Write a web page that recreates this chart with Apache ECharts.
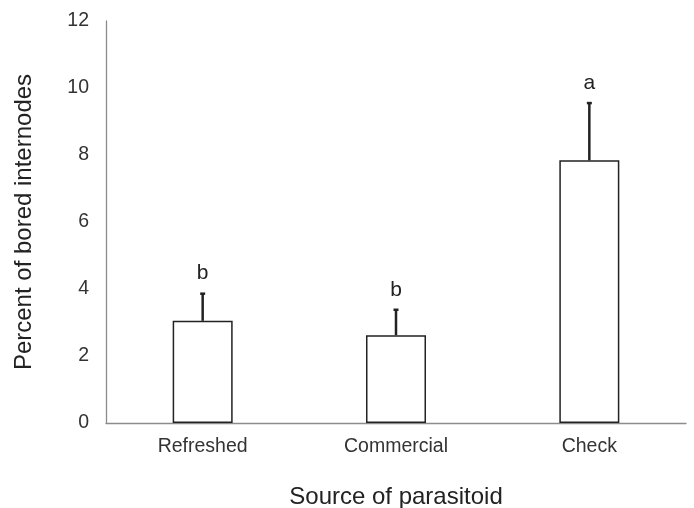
<!DOCTYPE html>
<html>
<head>
<meta charset="utf-8">
<script src="https://cdn.jsdelivr.net/npm/echarts@6/dist/echarts.min.js"></script>
<style>html,body{margin:0;padding:0;background:#fff}#c{width:694px;height:508px}</style>
</head>
<body>
<div id="c"></div>
<script>
var categories = ['Refreshed', 'Commercial', 'Check'];
var means = [3.05, 2.62, 7.84];
var errorTops = [3.89, 3.41, 9.58];
var letters = ['b', 'b', 'a'];
var yTicks = [0, 2, 4, 6, 8, 10, 12];

var chart = echarts.init(document.getElementById('c'));
var font = 'Liberation Sans, Arial, sans-serif';
chart.setOption({
  animation: false,
  backgroundColor: '#fff',
  grid: { left: 106, right: 8, top: 21, bottom: 85, containLabel: false, outerBoundsMode: 'none' },
  xAxis: {
    type: 'category',
    data: categories,
    axisLine: { lineStyle: { color: '#8c8c8c', width: 1.3 } },
    axisTick: { show: false },
    axisLabel: { color: '#333', fontSize: 19.5, fontFamily: font, margin: 14 },
    name: 'Source of parasitoid',
    nameLocation: 'middle',
    nameGap: 62,
    nameTextStyle: { color: '#222', fontSize: 24, fontFamily: font }
  },
  yAxis: {
    type: 'value',
    min: yTicks[0],
    max: yTicks[yTicks.length - 1],
    interval: 2,
    splitLine: { show: false },
    axisLine: { show: true, lineStyle: { color: '#8c8c8c', width: 1.3 } },
    axisTick: { show: false },
    axisLabel: { color: '#333', fontSize: 19.5, fontFamily: font, margin: 17 },
    name: 'Percent of bored internodes',
    nameLocation: 'middle',
    nameGap: 70,
    nameTextStyle: { color: '#222', fontSize: 24, fontFamily: font }
  },
  series: [
    {
      type: 'bar',
      data: means,
      barWidth: 60,
      itemStyle: { color: '#fff', borderColor: '#222', borderWidth: 1.5 },
      z: 2
    },
    {
      type: 'custom',
      z: 3,
      data: categories.map(function (c, i) { return [i, means[i], errorTops[i]]; }),
      renderItem: function (params, api) {
        var base = api.coord([api.value(0), api.value(1)]);
        var top = api.coord([api.value(0), api.value(2)]);
        var i = params.dataIndex;
        return {
          type: 'group',
          children: [
            { type: 'line', shape: { x1: base[0], y1: base[1], x2: top[0], y2: top[1] + 1 },
              style: { stroke: '#222', lineWidth: 2.5 } },
            { type: 'line', shape: { x1: top[0] - 2.5, y1: top[1] + 1, x2: top[0] + 2.5, y2: top[1] + 1 },
              style: { stroke: '#222', lineWidth: 2.5 } },
            { type: 'text', x: top[0], y: top[1] - 19,
              style: { text: letters[i], fill: '#222', font: '21px ' + font, align: 'center', verticalAlign: 'middle' } }
          ]
        };
      }
    }
  ]
});
</script>
</body>
</html>
